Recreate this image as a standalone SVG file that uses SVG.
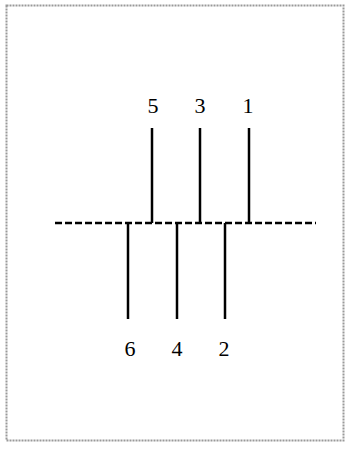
<svg xmlns="http://www.w3.org/2000/svg" width="350" height="450" viewBox="0 0 350 450">
<style>
.lbl{font-family:"Liberation Serif","Times New Roman",serif;font-size:22px;fill:#000;text-anchor:middle}
.ln{stroke:#000;stroke-width:2.5;fill:none}
</style>
<rect x="0" y="0" width="350" height="450" fill="#fff"/>
<rect x="6.5" y="5.5" width="337" height="435" fill="none" stroke="#999" stroke-width="2" stroke-dasharray="2,1"/>
<g id="connectors">
<line class="ln" x1="55" y1="223" x2="316" y2="223" stroke-dasharray="7,3"/>
</g>
<g id="n1"><line class="ln" x1="249" y1="128" x2="249" y2="223"/><text class="lbl" x="248" y="113">1</text></g>
<g id="n3"><line class="ln" x1="200" y1="128" x2="200" y2="223"/><text class="lbl" x="200" y="113">3</text></g>
<g id="n5"><line class="ln" x1="152" y1="128" x2="152" y2="223"/><text class="lbl" x="153" y="113">5</text></g>
<g id="n2"><line class="ln" x1="225" y1="223" x2="225" y2="319"/><text class="lbl" x="224" y="356">2</text></g>
<g id="n4"><line class="ln" x1="177" y1="223" x2="177" y2="319"/><text class="lbl" x="177" y="356">4</text></g>
<g id="n6"><line class="ln" x1="128" y1="223" x2="128" y2="319"/><text class="lbl" x="130" y="356">6</text></g>
</svg>
